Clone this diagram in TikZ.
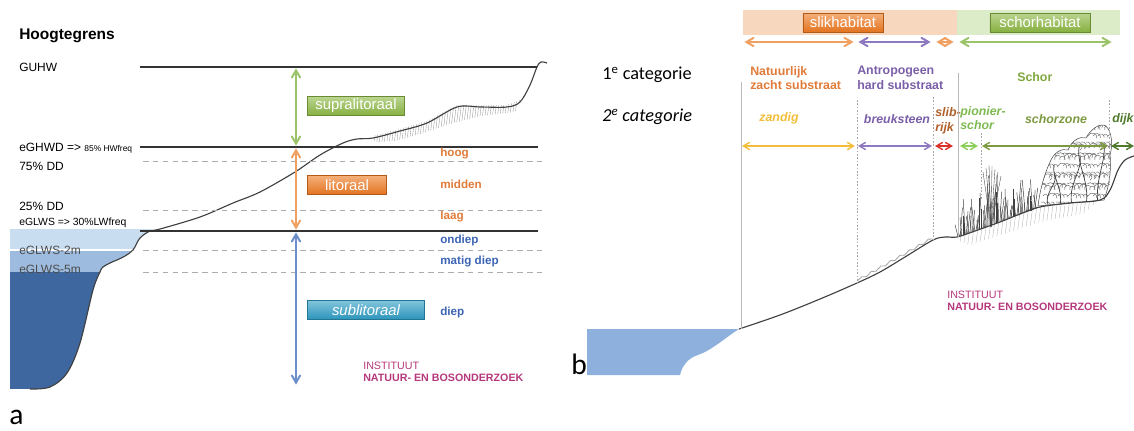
\documentclass[tikz,border=0pt]{standalone}
\usepackage{fontspec}
\setmainfont{Liberation Sans}
\newfontfamily\calibri{Carlito}
\usetikzlibrary{arrows}
\usetikzlibrary{positioning}

\definecolor{supragreen}{HTML}{8DB944}
\definecolor{litoorange}{HTML}{EE7A22}
\definecolor{subteal}{HTML}{2E9CC4}
\definecolor{arrgreen}{HTML}{9BC46A}
\definecolor{arrorange}{HTML}{F0A060}
\definecolor{arrblue}{HTML}{6A8FCC}
\definecolor{txtorange}{HTML}{E07B39}
\definecolor{txtblue}{HTML}{3C64B4}
\definecolor{inbo}{HTML}{B5377C}
\definecolor{wlight}{HTML}{C9DDF0}
\definecolor{wmid}{HTML}{9CBBDE}
\definecolor{wdark}{HTML}{3D679E}
\definecolor{wpanel}{HTML}{8DB0DD}
\definecolor{peach}{HTML}{F8D7BF}
\definecolor{palegreen}{HTML}{DCEBC8}
\definecolor{arrpurple}{HTML}{8E78C0}
\definecolor{arryellow}{HTML}{F2BE3A}
\definecolor{arrred}{HTML}{D9302C}
\definecolor{lightgreen}{HTML}{8CCF5A}
\definecolor{olive}{HTML}{7D9A42}
\definecolor{darkgreen}{HTML}{4F7A2C}
\definecolor{txtpurple}{HTML}{7A5FA8}
\definecolor{txtbrown}{HTML}{B0602A}

% omtrek van het struikgewas op de dijkvoet
\newcommand\struikpad{(1038,206) .. controls (1040,190) and (1044,175) .. (1050,162)
  .. controls (1054,152) and (1062,148) .. (1068,150) .. controls (1072,140) and (1080,136) .. (1086,138)
  .. controls (1090,130) and (1100,122) .. (1106,126) .. controls (1112,132) and (1113,145) .. (1110,155)
  .. controls (1112,170) and (1108,190) .. (1104,200) -- cycle}

\begin{document}
\begin{tikzpicture}[x=0.025cm,y=-0.025cm,>=angle 60,
  niveau/.style={line width=0.9pt,black!80},
  niveau dashed/.style={line width=0.7pt,gray!65,dash pattern=on 4pt off 3pt},
  sep line/.style={line width=0.6pt,gray!55},
  sep dotted/.style={line width=0.6pt,gray!70,dash pattern=on 1.2pt off 1.2pt},
  zone/.style={<->,line width=1.4pt,shorten <=1pt,shorten >=1pt},
  sub zone/.style={<->,line width=1pt},
  terrain/.style={line width=0.8pt,black!75},
  hatch/.style={line width=0.25pt,gray!85},
  veg/.style={line width=0.35pt,black!75},
  lbl/.style={anchor=west,inner sep=0pt,font=\fontsize{8.5}{10}\selectfont},
  zlbl/.style={anchor=west,inner sep=0pt,font=\bfseries\fontsize{8.3}{10}\selectfont},
  blbl/.style={anchor=west,inner sep=0pt,align=left,font=\bfseries\fontsize{8.8}{10.5}\selectfont},
  clbl/.style={inner sep=0pt,font=\bfseries\itshape\fontsize{8.8}{10.5}\selectfont},
  inbo lbl/.style={anchor=west,inner sep=0pt,align=left,text=inbo,font=\fontsize{7.6}{9}\selectfont},
  zone box/.style={rectangle,inner sep=0pt,minimum height=0.47cm,text=white,
    draw=#1!75!black,line width=0.3pt,top color=#1!60,bottom color=#1!95!black,
    font=\fontsize{10.6}{12}\selectfont},
  panel/.style={anchor=base west,inner sep=0pt,font=\calibri\fontsize{21}{23}\selectfont}]

  \useasboundingbox (0,0) rectangle (1134,430);

  % ---- a: hoogtegrenzen ----
  \begin{scope}
    \clip (10,229) -- (152,229) -- plot[smooth] coordinates {(150,231) (140,238) (133,250)
      (125,256) (117,260) (112,262) (103,267) (100,272) (93,290) (80,343) (67,373) (50,387) (30,389)}
      -- (10,389) -- cycle;
    \fill[wlight] (10,229) rectangle (160,250);
    \fill[wmid] (10,250) rectangle (160,272);
    \fill[wdark] (10,272) rectangle (160,389);
    \draw[white,line width=0.8pt] (10,250) -- (160,250);
  \end{scope}

  \begin{scope}
    \clip (373,136) -- (400,129) -- (427,121) -- (457,105) -- (507,105) -- (520,100)
      -- (515,112) -- (480,116) -- (450,124) -- (420,134) -- (395,141) -- (375,142) -- cycle;
    \foreach \x in {360,362.5,...,530}
      \draw[hatch] (\x,95) -- ++(-6,50);
  \end{scope}

  \draw[terrain] plot[smooth,tension=0.55] coordinates {(30,389) (50,387) (67,373) (80,343)
    (93,290) (100,272) (103,267) (112,262) (117,260) (125,256) (133,250) (140,238) (150,231)
    (160,229) (200,217) (233,203) (260,192) (295,172) (320,155) (343,143) (357,139) (373,138)
    (400,131) (427,123) (457,107) (480,107) (507,107) (520,102) (530,85) (537,67) (541,62) (547,63)};

  \coordinate (guhw-l) at (140,67);  \coordinate (guhw-r) at (537,67);
  \coordinate (eghwd-l) at (140,147); \coordinate (eghwd-r) at (538,147);
  \coordinate (eglws-l) at (140,231); \coordinate (eglws-r) at (538,231);
  \draw[niveau] (guhw-l) -- (guhw-r);
  \draw[niveau] (eghwd-l) -- (eghwd-r);
  \draw[niveau] (eglws-l) -- (eglws-r);
  \foreach \n/\y in {dd75/161,dd25/210,glws2/250,glws5/272} {
    \coordinate (\n-l) at (143,\y);
    \coordinate (\n-r) at (545,\y);
    \draw[niveau dashed] (\n-l) -- (\n-r);
  }

  \node[lbl,font=\bfseries\fontsize{11}{13}\selectfont] (titel) at (19,36) {Hoogtegrens};
  \node[lbl] (guhw) at (19,67) {GUHW};
  \node[lbl] (eghwd) at (19,148) {eGHWD => {\fontsize{6}{7}\selectfont 85\% HWfreq}};
  \node[lbl] (dd75) at (19,166) {75\% DD};
  \node[lbl] (dd25) at (19,206) {25\% DD};
  \node[lbl,font=\fontsize{7.4}{9}\selectfont] (eglws) at (19,223) {eGLWS => 30\%LWfreq};
  \node[lbl,text=black!70] (glws2) at (19,250) {eGLWS-2m};
  \node[lbl,text=black!70] (glws5) at (19,269) {eGLWS-5m};

  \coordinate (a-top) at (296,67);
  \coordinate (a-hw) at (296,147);
  \coordinate (a-lw) at (296,231);
  \coordinate (a-bot) at (296,386);
  \draw[zone,arrgreen] (a-top) -- (a-hw);
  \draw[zone,arrorange] (a-hw) -- (a-lw);
  \draw[zone,arrblue] (a-lw) -- (a-bot);

  \node[zone box=supragreen,minimum width=2.43cm] (supra) at (356,106) {supralitoraal};
  \node[zone box=litoorange,minimum width=1.98cm] (lito) at (347,185) {litoraal};
  \node[zone box=subteal,minimum width=2.93cm,font=\itshape\fontsize{10.6}{12}\selectfont]
    (sub) at (366,310) {sublitoraal};

  \node[zlbl,txtorange] (hoog) at (440,154) {hoog};
  \node[zlbl,txtorange] (midden) at (440,184) {midden};
  \node[zlbl,txtorange] (laag) at (440,217) {laag};
  \node[zlbl,txtblue] (ondiep) at (440,240) {ondiep};
  \node[zlbl,txtblue] (matig) at (440,262) {matig diep};
  \node[zlbl,txtblue] (diep) at (440,312) {diep};

  \node[inbo lbl] (inbo-a) at (363,366) {INSTITUUT};
  \node[inbo lbl,font=\bfseries\fontsize{7.6}{9}\selectfont] (inbo-a2) at (363,378) {NATUUR- EN BOSONDERZOEK};

  \node[panel] (lbl-a) at (9,424) {a};

  % ---- b: habitats ----
  \fill[wpanel] (587,329) -- (739,329) .. controls (725,338) and (712,350) .. (698,355)
    .. controls (688,358) and (682,366) .. (680,375) -- (587,375) -- cycle;

  \fill[peach] (743,10) rectangle (957,35);
  \fill[palegreen] (957,10) rectangle (1120,35);
  \node[zone box=litoorange,minimum width=2cm] (slik) at (843,22.5) {slikhabitat};
  \node[zone box=supragreen,minimum width=2.5cm] (schor) at (1040,22.5) {schorhabitat};

  \foreach \n/\a/\b/\c in {slk/743/855/arrorange,hrd/857/932/arrpurple,
      ovg/935/955/arrorange,sch/958/1113/arrgreen} {
    \coordinate (\n-l) at (\a,42);
    \coordinate (\n-r) at (\b,42);
    \draw[zone,\c] (\n-l) -- (\n-r);
  }

  \node[anchor=west,inner sep=0pt,font=\calibri\fontsize{13}{15}\selectfont] (cat1) at (602,75)
    {1\textsuperscript{e} categorie};
  \node[anchor=west,inner sep=0pt,font=\calibri\itshape\fontsize{13}{15}\selectfont] (cat2) at (602,117)
    {2\textsuperscript{e} categorie};

  \node[blbl,txtorange] (natuur) at (750,78) {Natuurlijk\\zacht substraat};
  \node[blbl,txtpurple] (antro) at (857,78) {Antropogeen\\hard substraat};
  \node[blbl,supragreen!90!black] (schorlbl) at (1017,77) {Schor};

  \node[clbl,arryellow] (zandig) at (779,118) {zandig};
  \node[clbl,txtpurple] (breuk) at (897,119) {breuksteen};
  \node[clbl,txtbrown,anchor=west,align=left] (slib) at (935,121) {slib-\\rijk};
  \node[clbl,lightgreen!90!black,anchor=west,align=left] (pionier) at (960,118) {pionier-\\schor};
  \node[clbl,olive] (schorzone) at (1056,119) {schorzone};
  \node[clbl,darkgreen,anchor=west] (dijk) at (1112,119) {dijk};

  \begin{scope}
    \clip (957,235) -- (975,229) -- (1000,220) -- (1020,212) -- (1040,205) -- (1070,201)
      -- (1100,198) -- (1085,213) -- (1040,222) -- (1000,235) -- (970,245) -- (958,241) -- cycle;
    \foreach \x in {955,959,...,1110}
      \draw[hatch,gray!60] (\x,190) -- ++(-8,60);
  \end{scope}

  % struikgewas
  \draw[veg,fill=white] \struikpad;
  \begin{scope}
    \clip \struikpad;
    \foreach \x in {1040,1045,...,1112}
      \foreach \y in {124,130,...,204} {
        \pgfmathsetmacro\r{2.5+mod(\x*3+\y,4)*0.7}
        \pgfmathsetmacro\s{150+mod(\x+\y*7,5)*25}
        \draw[veg,black!55] ({\x+mod(\y*3,5)},\y) arc (\s:{\s+170}:\r);
      }
    \foreach \x/\dx/\h in {1048/7/30,1060/-6/40,1072/8/50,1086/-7/58,1098/6/62}
      \draw[veg,line width=0.5pt] (\x,205) .. controls ({\x-0.6*(\dx)},{205-0.4*\h}) and ({\x+1.4*(\dx)},{205-0.7*\h}) .. ({\x+\dx},{205-\h});
  \end{scope}

  % pioniervegetatie en riet
  \foreach \i in {0,...,32} {
    \pgfmathsetmacro\x{958+2.4*\i}
    \pgfmathsetmacro\yb{237-0.36*(\x-957)}
    \pgfmathsetmacro\h{12+2.3*mod(\i*7,11)+((\i>9 && \i<18) ? 14 : 0)}
    \pgfmathsetmacro\b{mod(\i*5,7)-3}
    \draw[veg] (\x,\yb) .. controls ({\x+0.3*\b},{\yb-0.5*\h}) .. ({\x+\b},{\yb-\h});
    \draw[veg] ({\x+1.2},\yb) .. controls ({\x+1.2-0.4*\b},{\yb-0.3*\h}) .. ({\x+1.2-0.8*\b},{\yb-0.65*\h});
  }
  \foreach \dx/\top in {-8/172,-5/168,-2/165,1/166,4/169,7/172,10/176}
    \draw[veg,line width=0.25pt] (991,227) -- ({991+\dx},\top);

  \draw[terrain] plot[smooth,tension=0.55] coordinates {(739,329) (780,315) (820,299) (857,283)
    (880,272) (905,257) (933,240) (945,237) (957,237) (975,231) (1000,222) (1020,214) (1040,207)
    (1070,203) (1100,200) (1110,190) (1118,170) (1125,160) (1134,156)};
  \draw[gray!70,line width=0.6pt] (857,281) \foreach \i in {1,...,16}
    { -- ({857+4.75*\i},{283-0.566*4.75*\i-1-2.5*mod(\i,2)}) };

  \foreach \n/\x/\t/\b/\s in {v1/741/82/329/sep line,v2/857/100/283/sep dotted,v3/933/97/240/sep dotted,
      v4/958/73/237/sep line,v5/981/133/200/sep dotted,v6/1109/100/185/sep dotted} {
    \coordinate (\n-t) at (\x,\t);
    \coordinate (\n-b) at (\x,\b);
    \draw[\s] (\n-t) -- (\n-b);
  }

  \foreach \n/\a/\b/\c in {zan/742/855/arryellow,brk/858/932/arrpurple,slb/935/953/arrred,
      pio/960/978/lightgreen,szn/982/1108/olive,dyk/1111/1134/darkgreen} {
    \coordinate (\n-l) at (\a,146);
    \coordinate (\n-r) at (\b,146);
    \draw[sub zone,\c] (\n-l) -- (\n-r);
  }

  \node[inbo lbl] (inbo-b) at (947,295) {INSTITUUT};
  \node[inbo lbl,font=\bfseries\fontsize{7.6}{9}\selectfont] (inbo-b2) at (947,307) {NATUUR- EN BOSONDERZOEK};

  \node[panel] (lbl-b) at (571,374) {b};
\end{tikzpicture}
\end{document}
